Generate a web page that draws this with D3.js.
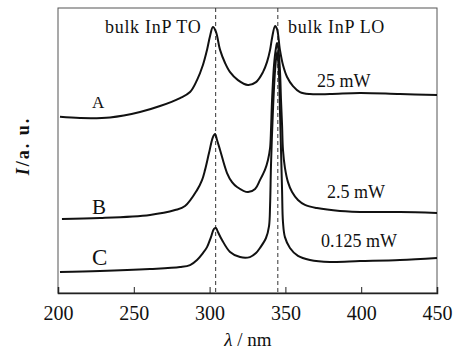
<!DOCTYPE html>
<html>
<head>
<meta charset="utf-8">
<script src="https://cdn.jsdelivr.net/npm/d3@7"></script>
<style>
  body { margin: 0; background: #fff; }
  svg { display: block; }
  text { font-family: "Liberation Serif", "DejaVu Serif", serif; fill: #111; }
</style>
</head>
<body>
<div id="chart"></div>
<script>
// wavelength (nm) and intensity (a.u.)
const waveA = [201.3,214.5,234.3,254.1,267.3,280.5,287.1,291.7,295.6,298.3,300.3,302.2,304.2,306.9,310.2,313.5,318.7,325.3,330.6,335.2,337.9,339.9,341.2,343.2,344.5,346.4,348.4,351.1,355.0,359.6,366.2,379.4,399.2,425.6,450.0];
const intA  = [61.8,61.4,61.6,63.5,65.6,68.4,70.5,74.7,80.0,85.3,90.2,93.3,91.6,85.3,80.7,77.5,74.7,73.0,74.0,77.5,81.1,85.3,89.5,93.7,92.6,85.3,80.0,75.8,72.6,70.5,69.8,69.8,70.2,69.8,69.5];

const waveB = [202.6,227.7,260.7,277.2,283.8,291.7,295.0,297.0,299.6,302.2,303.6,304.9,306.9,311.5,314.8,318.1,325.3,330.0,333.2,336.5,338.5,339.9,340.5,341.2,342.5,343.9,344.5,345.2,346.4,347.1,347.8,348.4,349.7,351.7,354.4,358.3,362.9,370.8,386.0,405.8,425.6,450.0];
const intB  = [26.0,26.3,27.4,29.1,30.5,36.1,39.6,43.2,49.1,54.7,55.8,53.7,50.2,42.1,38.9,37.2,35.4,36.5,39.6,43.2,46.7,50.9,57.2,67.7,80.0,86.3,87.7,86.3,78.2,67.7,58.9,50.2,43.9,38.9,35.4,32.6,30.9,29.8,28.8,28.4,28.4,28.1];

const waveC = [201.3,227.7,260.7,280.5,287.1,291.7,295.6,298.3,300.9,302.9,304.2,305.5,308.2,313.5,320.1,326.6,330.6,333.2,337.2,339.2,339.9,340.5,341.8,343.2,344.5,345.8,346.4,347.1,347.8,348.4,349.7,353.0,358.3,366.2,379.4,399.2,425.6,450.0];
const intC  = [7.4,7.7,8.4,9.1,9.8,11.6,14.0,16.1,19.6,22.5,22.8,21.4,18.6,14.4,12.6,12.6,14.0,15.8,19.3,23.5,30.9,44.9,64.2,78.2,84.6,76.5,64.2,50.2,36.1,24.9,19.6,15.8,13.0,11.6,10.9,11.2,11.6,12.3];

const xTicks = [200, 250, 300, 350, 400, 450];
const bulkLines = [304, 345];

const W = 463, H = 353;
const margin = { top: 8, right: 26, bottom: 60, left: 58 };
const width = W - margin.left - margin.right;
const height = H - margin.top - margin.bottom;

const svg = d3.select("#chart").append("svg")
    .attr("width", W)
    .attr("height", H);
const g = svg.append("g")
    .attr("transform", "translate(" + margin.left + "," + margin.top + ")");

const x = d3.scaleLinear().domain([200, 450]).range([0, width]);
const y = d3.scaleLinear().domain([0, 100]).range([height, 0]);

// frame
g.append("rect")
    .attr("width", width)
    .attr("height", height)
    .attr("fill", "none")
    .attr("stroke", "#555")
    .attr("stroke-width", 1);

// dashed reference lines
g.selectAll(".ref")
    .data(bulkLines)
    .enter()
    .append("line")
    .attr("x1", d => x(d))
    .attr("x2", d => x(d))
    .attr("y1", 0)
    .attr("y2", height)
    .attr("stroke", "#333")
    .attr("stroke-width", 1)
    .attr("stroke-dasharray", "4,3");

// bottom axis, ticks pointing in
const xAxis = g.append("g")
    .attr("transform", "translate(0," + height + ")")
    .call(d3.axisBottom(x).tickValues(xTicks).tickSize(-6).tickPadding(13));
xAxis.select(".domain").attr("stroke", "#222").attr("stroke-width", 1.5);
xAxis.selectAll(".tick line").attr("stroke", "#222");
xAxis.selectAll(".tick text")
    .style("font-family", "'Liberation Serif', serif")
    .style("font-size", "20px")
    .attr("fill", "#111");

// spectra
const line = d3.line()
    .x(d => x(d[0]))
    .y(d => y(d[1]))
    .curve(d3.curveCatmullRom.alpha(0.5));

const series = [
    d3.zip(waveA, intA),
    d3.zip(waveB, intB),
    d3.zip(waveC, intC)
];
g.selectAll(".spec")
    .data(series)
    .enter()
    .append("path")
    .attr("d", line)
    .attr("fill", "none")
    .attr("stroke", "#111")
    .attr("stroke-width", 2)
    .attr("stroke-linejoin", "round");

// annotations
svg.append("text").attr("x", 105).attr("y", 33).style("font-size", "18px").style("letter-spacing", "0.7px").text("bulk InP TO");
svg.append("text").attr("x", 288).attr("y", 33).style("font-size", "18px").style("letter-spacing", "0.7px").text("bulk InP LO");
svg.append("text").attr("x", 317).attr("y", 87).style("font-size", "18px").text("25 mW");
svg.append("text").attr("x", 327).attr("y", 198).style("font-size", "18px").text("2.5 mW");
svg.append("text").attr("x", 321).attr("y", 247).style("font-size", "18px").text("0.125 mW");
svg.append("text").attr("x", 92).attr("y", 108).style("font-size", "17px").text("A");
svg.append("text").attr("x", 92).attr("y", 214).style("font-size", "21px").text("B");
svg.append("text").attr("x", 92).attr("y", 265).style("font-size", "23px").text("C");

// axis titles
const yl = svg.append("text")
    .attr("transform", "translate(29,146) rotate(-90)")
    .attr("text-anchor", "middle")
    .style("font-size", "18px")
    .style("font-weight", "bold")
    .style("letter-spacing", "2px");
yl.append("tspan").style("font-style", "italic").text("I");
yl.append("tspan").text("/a. u.");

const xl = svg.append("text")
    .attr("x", 248)
    .attr("y", 346)
    .attr("text-anchor", "middle")
    .style("font-size", "19px");
xl.append("tspan").style("font-style", "italic").text("λ");
xl.append("tspan").text(" / nm");
</script>
</body>
</html>
